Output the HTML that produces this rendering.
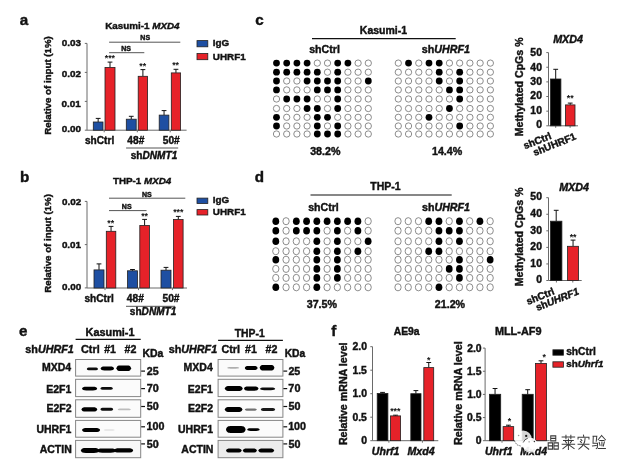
<!DOCTYPE html>
<html><head><meta charset="utf-8"><style>
html,body{margin:0;padding:0;background:#fff;}
svg{display:block;font-family:"Liberation Sans",sans-serif;filter:blur(0.4px);}
text{stroke:#111;stroke-width:0.42px;paint-order:stroke;}
</style></head><body>
<svg width="625" height="470" viewBox="0 0 625 470">
<defs><filter id="bl" x="-20%" y="-100%" width="140%" height="300%"><feGaussianBlur stdDeviation="0.6"/></filter></defs>
<rect width="625" height="470" fill="#fff"/>
<text x="19.64" y="24.80" font-size="15.20" font-weight="bold" fill="#111"><tspan>a</tspan></text>
<text x="105.16" y="28.70" font-size="9.86" font-weight="bold" fill="#111"><tspan>Kasumi-1 </tspan><tspan font-style="italic">MXD4</tspan></text>
<line x1="87" y1="43.4" x2="87" y2="130.2" stroke="#6a6a6a" stroke-width="1"/>
<line x1="84.8" y1="43.4" x2="87" y2="43.4" stroke="#6a6a6a" stroke-width="1"/>
<text x="61.69" y="45.60" font-size="9.90" font-weight="bold" fill="#111"><tspan>0.03</tspan></text>
<line x1="84.8" y1="72.4" x2="87" y2="72.4" stroke="#6a6a6a" stroke-width="1"/>
<text x="61.74" y="76.50" font-size="9.90" font-weight="bold" fill="#111"><tspan>0.02</tspan></text>
<line x1="84.8" y1="101.4" x2="87" y2="101.4" stroke="#6a6a6a" stroke-width="1"/>
<text x="61.59" y="107.40" font-size="9.90" font-weight="bold" fill="#111"><tspan>0.01</tspan></text>
<line x1="84.8" y1="130.2" x2="87" y2="130.2" stroke="#6a6a6a" stroke-width="1"/>
<text x="61.74" y="132.40" font-size="9.90" font-weight="bold" fill="#111"><tspan>0.00</tspan></text>
<text transform="translate(51.44,134.83) rotate(-90)" font-size="9.71" font-weight="bold" fill="#111"><tspan>Relative of input (1%)</tspan></text>
<line x1="87" y1="130.2" x2="186.6" y2="130.2" stroke="#6a6a6a" stroke-width="1"/>
<line x1="104.2" y1="130.2" x2="104.2" y2="132.3" stroke="#6a6a6a" stroke-width="1"/>
<line x1="137.3" y1="130.2" x2="137.3" y2="132.3" stroke="#6a6a6a" stroke-width="1"/>
<line x1="170.2" y1="130.2" x2="170.2" y2="132.3" stroke="#6a6a6a" stroke-width="1"/>
<line x1="98.15" y1="122" x2="98.15" y2="118.4" stroke="#111" stroke-width="1"/>
<line x1="95.75" y1="118.4" x2="100.55000000000001" y2="118.4" stroke="#111" stroke-width="1"/>
<rect x="93.30" y="122.00" width="9.70" height="8.20" fill="#1e4fa2" stroke="#222" stroke-width="0.8"/>
<line x1="110.0" y1="67.4" x2="110.0" y2="62.1" stroke="#111" stroke-width="1"/>
<line x1="107.6" y1="62.1" x2="112.4" y2="62.1" stroke="#111" stroke-width="1"/>
<rect x="105.00" y="67.40" width="10.00" height="62.80" fill="#e62229" stroke="#222" stroke-width="0.8"/>
<line x1="131.25" y1="119.2" x2="131.25" y2="116.3" stroke="#111" stroke-width="1"/>
<line x1="128.85" y1="116.3" x2="133.65" y2="116.3" stroke="#111" stroke-width="1"/>
<rect x="126.30" y="119.20" width="9.90" height="11.00" fill="#1e4fa2" stroke="#222" stroke-width="0.8"/>
<line x1="142.89999999999998" y1="76.3" x2="142.89999999999998" y2="69.6" stroke="#111" stroke-width="1"/>
<line x1="140.49999999999997" y1="69.6" x2="145.29999999999998" y2="69.6" stroke="#111" stroke-width="1"/>
<rect x="138.20" y="76.30" width="9.40" height="53.90" fill="#e62229" stroke="#222" stroke-width="0.8"/>
<line x1="164.05" y1="115.1" x2="164.05" y2="110.6" stroke="#111" stroke-width="1"/>
<line x1="161.65" y1="110.6" x2="166.45000000000002" y2="110.6" stroke="#111" stroke-width="1"/>
<rect x="159.20" y="115.10" width="9.70" height="15.10" fill="#1e4fa2" stroke="#222" stroke-width="0.8"/>
<line x1="175.95" y1="72.9" x2="175.95" y2="69.3" stroke="#111" stroke-width="1"/>
<line x1="173.54999999999998" y1="69.3" x2="178.35" y2="69.3" stroke="#111" stroke-width="1"/>
<rect x="171.30" y="72.90" width="9.30" height="57.30" fill="#e62229" stroke="#222" stroke-width="0.8"/>
<text x="104.75" y="61.47" font-size="8.8" font-weight="bold" fill="#111" style="stroke:none">***</text>
<text x="139.37" y="69.37" font-size="8.8" font-weight="bold" fill="#111" style="stroke:none">**</text>
<text x="172.17" y="68.27" font-size="8.8" font-weight="bold" fill="#111" style="stroke:none">**</text>
<line x1="109.1" y1="42.2" x2="180.3" y2="42.2" stroke="#555" stroke-width="1"/>
<text x="140.34" y="40.00" font-size="7.00" font-weight="bold" fill="#111"><tspan>NS</tspan></text>
<line x1="109.1" y1="52.7" x2="144.3" y2="52.7" stroke="#555" stroke-width="1"/>
<text x="121.14" y="50.80" font-size="7.00" font-weight="bold" fill="#111"><tspan>NS</tspan></text>
<text x="84.95" y="144.40" font-size="10.13" font-weight="bold" fill="#111"><tspan>shCtrl</tspan></text>
<text x="127.35" y="144.40" font-size="10.20" font-weight="bold" fill="#111"><tspan>48#</tspan></text>
<text x="162.79" y="144.40" font-size="10.20" font-weight="bold" fill="#111"><tspan>50#</tspan></text>
<line x1="126.1" y1="148" x2="178.2" y2="148" stroke="#555" stroke-width="1"/>
<text x="130.75" y="158.50" font-size="10.11" font-weight="bold" fill="#111"><tspan>sh</tspan><tspan font-style="italic">DNMT1</tspan></text>
<rect x="197.00" y="40.60" width="10.80" height="6.20" fill="#1e4fa2" stroke="#222" stroke-width="0.8"/>
<rect x="197.00" y="53.50" width="10.80" height="6.20" fill="#e62229" stroke="#222" stroke-width="0.8"/>
<text x="212.76" y="46.20" font-size="9.90" font-weight="bold" fill="#111"><tspan>IgG</tspan></text>
<text x="212.81" y="59.70" font-size="9.90" font-weight="bold" fill="#111"><tspan>UHRF1</tspan></text>
<text x="19.91" y="181.70" font-size="15.20" font-weight="bold" fill="#111"><tspan>b</tspan></text>
<text x="113.00" y="183.80" font-size="9.81" font-weight="bold" fill="#111"><tspan>THP-1 </tspan><tspan font-style="italic">MXD4</tspan></text>
<line x1="87" y1="201.4" x2="87" y2="288" stroke="#6a6a6a" stroke-width="1"/>
<line x1="84.8" y1="201.4" x2="87" y2="201.4" stroke="#6a6a6a" stroke-width="1"/>
<text x="62.04" y="204.70" font-size="9.90" font-weight="bold" fill="#111"><tspan>0.02</tspan></text>
<line x1="84.8" y1="244.6" x2="87" y2="244.6" stroke="#6a6a6a" stroke-width="1"/>
<text x="61.89" y="247.80" font-size="9.90" font-weight="bold" fill="#111"><tspan>0.01</tspan></text>
<line x1="84.8" y1="287.9" x2="87" y2="287.9" stroke="#6a6a6a" stroke-width="1"/>
<text x="62.04" y="290.20" font-size="9.90" font-weight="bold" fill="#111"><tspan>0.00</tspan></text>
<text transform="translate(51.44,292.73) rotate(-90)" font-size="9.71" font-weight="bold" fill="#111"><tspan>Relative of input (1%)</tspan></text>
<line x1="87" y1="288" x2="187" y2="288" stroke="#6a6a6a" stroke-width="1"/>
<line x1="105" y1="288" x2="105" y2="290.1" stroke="#6a6a6a" stroke-width="1"/>
<line x1="138.5" y1="288" x2="138.5" y2="290.1" stroke="#6a6a6a" stroke-width="1"/>
<line x1="172.4" y1="288" x2="172.4" y2="290.1" stroke="#6a6a6a" stroke-width="1"/>
<line x1="99.0" y1="269.9" x2="99.0" y2="263.9" stroke="#111" stroke-width="1"/>
<line x1="96.6" y1="263.9" x2="101.4" y2="263.9" stroke="#111" stroke-width="1"/>
<rect x="94.00" y="269.90" width="10.00" height="18.10" fill="#1e4fa2" stroke="#222" stroke-width="0.8"/>
<line x1="111.05" y1="231.3" x2="111.05" y2="226.4" stroke="#111" stroke-width="1"/>
<line x1="108.64999999999999" y1="226.4" x2="113.45" y2="226.4" stroke="#111" stroke-width="1"/>
<rect x="106.30" y="231.30" width="9.50" height="56.70" fill="#e62229" stroke="#222" stroke-width="0.8"/>
<line x1="132.5" y1="270.8" x2="132.5" y2="269.5" stroke="#111" stroke-width="1"/>
<line x1="130.1" y1="269.5" x2="134.9" y2="269.5" stroke="#111" stroke-width="1"/>
<rect x="127.50" y="270.80" width="10.00" height="17.20" fill="#1e4fa2" stroke="#222" stroke-width="0.8"/>
<line x1="144.60000000000002" y1="225.5" x2="144.60000000000002" y2="219.4" stroke="#111" stroke-width="1"/>
<line x1="142.20000000000002" y1="219.4" x2="147.00000000000003" y2="219.4" stroke="#111" stroke-width="1"/>
<rect x="139.80" y="225.50" width="9.60" height="62.50" fill="#e62229" stroke="#222" stroke-width="0.8"/>
<line x1="166.0" y1="270.2" x2="166.0" y2="267.4" stroke="#111" stroke-width="1"/>
<line x1="163.6" y1="267.4" x2="168.4" y2="267.4" stroke="#111" stroke-width="1"/>
<rect x="161.00" y="270.20" width="10.00" height="17.80" fill="#1e4fa2" stroke="#222" stroke-width="0.8"/>
<line x1="178.3" y1="219.5" x2="178.3" y2="216.4" stroke="#111" stroke-width="1"/>
<line x1="175.9" y1="216.4" x2="180.70000000000002" y2="216.4" stroke="#111" stroke-width="1"/>
<rect x="173.50" y="219.50" width="9.60" height="68.50" fill="#e62229" stroke="#222" stroke-width="0.8"/>
<text x="107.37" y="226.17" font-size="8.8" font-weight="bold" fill="#111" style="stroke:none">**</text>
<text x="141.17" y="219.17" font-size="8.8" font-weight="bold" fill="#111" style="stroke:none">**</text>
<text x="173.15" y="215.07" font-size="8.8" font-weight="bold" fill="#111" style="stroke:none">***</text>
<line x1="109" y1="198.2" x2="185.3" y2="198.2" stroke="#555" stroke-width="1"/>
<text x="142.04" y="196.50" font-size="7.00" font-weight="bold" fill="#111"><tspan>NS</tspan></text>
<line x1="109" y1="210.6" x2="146.5" y2="210.6" stroke="#555" stroke-width="1"/>
<text x="121.84" y="208.50" font-size="7.00" font-weight="bold" fill="#111"><tspan>NS</tspan></text>
<text x="84.45" y="302.40" font-size="10.13" font-weight="bold" fill="#111"><tspan>shCtrl</tspan></text>
<text x="126.85" y="302.40" font-size="10.20" font-weight="bold" fill="#111"><tspan>48#</tspan></text>
<text x="162.49" y="302.40" font-size="10.20" font-weight="bold" fill="#111"><tspan>50#</tspan></text>
<line x1="126" y1="306.3" x2="175" y2="306.3" stroke="#555" stroke-width="1"/>
<text x="129.85" y="315.30" font-size="10.09" font-weight="bold" fill="#111"><tspan>sh</tspan><tspan font-style="italic">DNMT1</tspan></text>
<rect x="197.00" y="198.10" width="10.80" height="5.40" fill="#1e4fa2" stroke="#222" stroke-width="0.8"/>
<rect x="197.00" y="209.60" width="10.80" height="5.40" fill="#e62229" stroke="#222" stroke-width="0.8"/>
<text x="212.76" y="202.90" font-size="9.90" font-weight="bold" fill="#111"><tspan>IgG</tspan></text>
<text x="212.81" y="215.00" font-size="9.90" font-weight="bold" fill="#111"><tspan>UHRF1</tspan></text>
<text x="255.19" y="24.80" font-size="15.20" font-weight="bold" fill="#111"><tspan>c</tspan></text>
<text x="359.82" y="34.20" font-size="10.50" font-weight="bold" fill="#111"><tspan>Kasumi-1</tspan></text>
<line x1="312" y1="38.6" x2="455.7" y2="38.6" stroke="#111" stroke-width="1.2"/>
<text x="309.23" y="52.80" font-size="10.60" font-weight="bold" fill="#111"><tspan>shCtrl</tspan></text>
<text x="421.83" y="52.60" font-size="10.70" font-weight="bold" fill="#111"><tspan>sh</tspan><tspan font-style="italic">UHRF1</tspan></text>
<ellipse cx="276.50" cy="63.10" rx="3.40" ry="3.40" fill="#000"/>
<ellipse cx="286.70" cy="63.10" rx="3.40" ry="3.40" fill="#000"/>
<ellipse cx="296.90" cy="63.10" rx="3.40" ry="3.40" fill="#000"/>
<ellipse cx="307.10" cy="63.10" rx="3.40" ry="3.40" fill="#000"/>
<ellipse cx="317.30" cy="63.10" rx="3.15" ry="3.15" fill="#fff" stroke="#707070" stroke-width="0.8"/>
<ellipse cx="327.50" cy="63.10" rx="3.15" ry="3.15" fill="#fff" stroke="#707070" stroke-width="0.8"/>
<ellipse cx="337.70" cy="63.10" rx="3.40" ry="3.40" fill="#000"/>
<ellipse cx="347.90" cy="63.10" rx="3.40" ry="3.40" fill="#000"/>
<ellipse cx="358.10" cy="63.10" rx="3.15" ry="3.15" fill="#fff" stroke="#707070" stroke-width="0.8"/>
<ellipse cx="368.30" cy="63.10" rx="3.15" ry="3.15" fill="#fff" stroke="#707070" stroke-width="0.8"/>
<ellipse cx="276.50" cy="72.20" rx="3.40" ry="3.40" fill="#000"/>
<ellipse cx="286.70" cy="72.20" rx="3.40" ry="3.40" fill="#000"/>
<ellipse cx="296.90" cy="72.20" rx="3.40" ry="3.40" fill="#000"/>
<ellipse cx="307.10" cy="72.20" rx="3.40" ry="3.40" fill="#000"/>
<ellipse cx="317.30" cy="72.20" rx="3.40" ry="3.40" fill="#000"/>
<ellipse cx="327.50" cy="72.20" rx="3.15" ry="3.15" fill="#fff" stroke="#707070" stroke-width="0.8"/>
<ellipse cx="337.70" cy="72.20" rx="3.40" ry="3.40" fill="#000"/>
<ellipse cx="347.90" cy="72.20" rx="3.15" ry="3.15" fill="#fff" stroke="#707070" stroke-width="0.8"/>
<ellipse cx="358.10" cy="72.20" rx="3.15" ry="3.15" fill="#fff" stroke="#707070" stroke-width="0.8"/>
<ellipse cx="368.30" cy="72.20" rx="3.15" ry="3.15" fill="#fff" stroke="#707070" stroke-width="0.8"/>
<ellipse cx="276.50" cy="81.00" rx="3.40" ry="3.40" fill="#000"/>
<ellipse cx="286.70" cy="81.00" rx="3.15" ry="3.15" fill="#fff" stroke="#707070" stroke-width="0.8"/>
<ellipse cx="296.90" cy="81.00" rx="3.15" ry="3.15" fill="#fff" stroke="#707070" stroke-width="0.8"/>
<ellipse cx="307.10" cy="81.00" rx="3.40" ry="3.40" fill="#000"/>
<ellipse cx="317.30" cy="81.00" rx="3.40" ry="3.40" fill="#000"/>
<ellipse cx="327.50" cy="81.00" rx="3.40" ry="3.40" fill="#000"/>
<ellipse cx="337.70" cy="81.00" rx="3.40" ry="3.40" fill="#000"/>
<ellipse cx="347.90" cy="81.00" rx="3.15" ry="3.15" fill="#fff" stroke="#707070" stroke-width="0.8"/>
<ellipse cx="358.10" cy="81.00" rx="3.15" ry="3.15" fill="#fff" stroke="#707070" stroke-width="0.8"/>
<ellipse cx="368.30" cy="81.00" rx="3.40" ry="3.40" fill="#000"/>
<ellipse cx="276.50" cy="89.90" rx="3.40" ry="3.40" fill="#000"/>
<ellipse cx="286.70" cy="89.90" rx="3.15" ry="3.15" fill="#fff" stroke="#707070" stroke-width="0.8"/>
<ellipse cx="296.90" cy="89.90" rx="3.15" ry="3.15" fill="#fff" stroke="#707070" stroke-width="0.8"/>
<ellipse cx="307.10" cy="89.90" rx="3.15" ry="3.15" fill="#fff" stroke="#707070" stroke-width="0.8"/>
<ellipse cx="317.30" cy="89.90" rx="3.40" ry="3.40" fill="#000"/>
<ellipse cx="327.50" cy="89.90" rx="3.40" ry="3.40" fill="#000"/>
<ellipse cx="337.70" cy="89.90" rx="3.40" ry="3.40" fill="#000"/>
<ellipse cx="347.90" cy="89.90" rx="3.15" ry="3.15" fill="#fff" stroke="#707070" stroke-width="0.8"/>
<ellipse cx="358.10" cy="89.90" rx="3.15" ry="3.15" fill="#fff" stroke="#707070" stroke-width="0.8"/>
<ellipse cx="368.30" cy="89.90" rx="3.15" ry="3.15" fill="#fff" stroke="#707070" stroke-width="0.8"/>
<ellipse cx="276.50" cy="99.00" rx="3.15" ry="3.15" fill="#fff" stroke="#707070" stroke-width="0.8"/>
<ellipse cx="286.70" cy="99.00" rx="3.40" ry="3.40" fill="#000"/>
<ellipse cx="296.90" cy="99.00" rx="3.40" ry="3.40" fill="#000"/>
<ellipse cx="307.10" cy="99.00" rx="3.40" ry="3.40" fill="#000"/>
<ellipse cx="317.30" cy="99.00" rx="3.15" ry="3.15" fill="#fff" stroke="#707070" stroke-width="0.8"/>
<ellipse cx="327.50" cy="99.00" rx="3.15" ry="3.15" fill="#fff" stroke="#707070" stroke-width="0.8"/>
<ellipse cx="337.70" cy="99.00" rx="3.40" ry="3.40" fill="#000"/>
<ellipse cx="347.90" cy="99.00" rx="3.15" ry="3.15" fill="#fff" stroke="#707070" stroke-width="0.8"/>
<ellipse cx="358.10" cy="99.00" rx="3.15" ry="3.15" fill="#fff" stroke="#707070" stroke-width="0.8"/>
<ellipse cx="368.30" cy="99.00" rx="3.15" ry="3.15" fill="#fff" stroke="#707070" stroke-width="0.8"/>
<ellipse cx="276.50" cy="108.50" rx="3.15" ry="3.15" fill="#fff" stroke="#707070" stroke-width="0.8"/>
<ellipse cx="286.70" cy="108.50" rx="3.15" ry="3.15" fill="#fff" stroke="#707070" stroke-width="0.8"/>
<ellipse cx="296.90" cy="108.50" rx="3.15" ry="3.15" fill="#fff" stroke="#707070" stroke-width="0.8"/>
<ellipse cx="307.10" cy="108.50" rx="3.40" ry="3.40" fill="#000"/>
<ellipse cx="317.30" cy="108.50" rx="3.40" ry="3.40" fill="#000"/>
<ellipse cx="327.50" cy="108.50" rx="3.15" ry="3.15" fill="#fff" stroke="#707070" stroke-width="0.8"/>
<ellipse cx="337.70" cy="108.50" rx="3.40" ry="3.40" fill="#000"/>
<ellipse cx="347.90" cy="108.50" rx="3.15" ry="3.15" fill="#fff" stroke="#707070" stroke-width="0.8"/>
<ellipse cx="358.10" cy="108.50" rx="3.15" ry="3.15" fill="#fff" stroke="#707070" stroke-width="0.8"/>
<ellipse cx="368.30" cy="108.50" rx="3.15" ry="3.15" fill="#fff" stroke="#707070" stroke-width="0.8"/>
<ellipse cx="276.50" cy="117.30" rx="3.40" ry="3.40" fill="#000"/>
<ellipse cx="286.70" cy="117.30" rx="3.15" ry="3.15" fill="#fff" stroke="#707070" stroke-width="0.8"/>
<ellipse cx="296.90" cy="117.30" rx="3.15" ry="3.15" fill="#fff" stroke="#707070" stroke-width="0.8"/>
<ellipse cx="307.10" cy="117.30" rx="3.15" ry="3.15" fill="#fff" stroke="#707070" stroke-width="0.8"/>
<ellipse cx="317.30" cy="117.30" rx="3.40" ry="3.40" fill="#000"/>
<ellipse cx="327.50" cy="117.30" rx="3.40" ry="3.40" fill="#000"/>
<ellipse cx="337.70" cy="117.30" rx="3.15" ry="3.15" fill="#fff" stroke="#707070" stroke-width="0.8"/>
<ellipse cx="347.90" cy="117.30" rx="3.15" ry="3.15" fill="#fff" stroke="#707070" stroke-width="0.8"/>
<ellipse cx="358.10" cy="117.30" rx="3.15" ry="3.15" fill="#fff" stroke="#707070" stroke-width="0.8"/>
<ellipse cx="368.30" cy="117.30" rx="3.15" ry="3.15" fill="#fff" stroke="#707070" stroke-width="0.8"/>
<ellipse cx="276.50" cy="126.00" rx="3.40" ry="3.40" fill="#000"/>
<ellipse cx="286.70" cy="126.00" rx="3.15" ry="3.15" fill="#fff" stroke="#707070" stroke-width="0.8"/>
<ellipse cx="296.90" cy="126.00" rx="3.15" ry="3.15" fill="#fff" stroke="#707070" stroke-width="0.8"/>
<ellipse cx="307.10" cy="126.00" rx="3.15" ry="3.15" fill="#fff" stroke="#707070" stroke-width="0.8"/>
<ellipse cx="317.30" cy="126.00" rx="3.40" ry="3.40" fill="#000"/>
<ellipse cx="327.50" cy="126.00" rx="3.15" ry="3.15" fill="#fff" stroke="#707070" stroke-width="0.8"/>
<ellipse cx="337.70" cy="126.00" rx="3.40" ry="3.40" fill="#000"/>
<ellipse cx="347.90" cy="126.00" rx="3.15" ry="3.15" fill="#fff" stroke="#707070" stroke-width="0.8"/>
<ellipse cx="358.10" cy="126.00" rx="3.15" ry="3.15" fill="#fff" stroke="#707070" stroke-width="0.8"/>
<ellipse cx="368.30" cy="126.00" rx="3.15" ry="3.15" fill="#fff" stroke="#707070" stroke-width="0.8"/>
<ellipse cx="276.50" cy="134.00" rx="3.15" ry="3.15" fill="#fff" stroke="#707070" stroke-width="0.8"/>
<ellipse cx="286.70" cy="134.00" rx="3.15" ry="3.15" fill="#fff" stroke="#707070" stroke-width="0.8"/>
<ellipse cx="296.90" cy="134.00" rx="3.15" ry="3.15" fill="#fff" stroke="#707070" stroke-width="0.8"/>
<ellipse cx="307.10" cy="134.00" rx="3.15" ry="3.15" fill="#fff" stroke="#707070" stroke-width="0.8"/>
<ellipse cx="317.30" cy="134.00" rx="3.40" ry="3.40" fill="#000"/>
<ellipse cx="327.50" cy="134.00" rx="3.40" ry="3.40" fill="#000"/>
<ellipse cx="337.70" cy="134.00" rx="3.40" ry="3.40" fill="#000"/>
<ellipse cx="347.90" cy="134.00" rx="3.15" ry="3.15" fill="#fff" stroke="#707070" stroke-width="0.8"/>
<ellipse cx="358.10" cy="134.00" rx="3.15" ry="3.15" fill="#fff" stroke="#707070" stroke-width="0.8"/>
<ellipse cx="368.30" cy="134.00" rx="3.15" ry="3.15" fill="#fff" stroke="#707070" stroke-width="0.8"/>
<ellipse cx="398.30" cy="63.10" rx="3.15" ry="3.15" fill="#fff" stroke="#707070" stroke-width="0.8"/>
<ellipse cx="408.53" cy="63.10" rx="3.40" ry="3.40" fill="#000"/>
<ellipse cx="418.76" cy="63.10" rx="3.15" ry="3.15" fill="#fff" stroke="#707070" stroke-width="0.8"/>
<ellipse cx="428.99" cy="63.10" rx="3.40" ry="3.40" fill="#000"/>
<ellipse cx="439.22" cy="63.10" rx="3.40" ry="3.40" fill="#000"/>
<ellipse cx="449.45" cy="63.10" rx="3.15" ry="3.15" fill="#fff" stroke="#707070" stroke-width="0.8"/>
<ellipse cx="459.68" cy="63.10" rx="3.15" ry="3.15" fill="#fff" stroke="#707070" stroke-width="0.8"/>
<ellipse cx="469.91" cy="63.10" rx="3.15" ry="3.15" fill="#fff" stroke="#707070" stroke-width="0.8"/>
<ellipse cx="480.14" cy="63.10" rx="3.15" ry="3.15" fill="#fff" stroke="#707070" stroke-width="0.8"/>
<ellipse cx="490.37" cy="63.10" rx="3.15" ry="3.15" fill="#fff" stroke="#707070" stroke-width="0.8"/>
<ellipse cx="398.30" cy="72.20" rx="3.15" ry="3.15" fill="#fff" stroke="#707070" stroke-width="0.8"/>
<ellipse cx="408.53" cy="72.20" rx="3.15" ry="3.15" fill="#fff" stroke="#707070" stroke-width="0.8"/>
<ellipse cx="418.76" cy="72.20" rx="3.15" ry="3.15" fill="#fff" stroke="#707070" stroke-width="0.8"/>
<ellipse cx="428.99" cy="72.20" rx="3.15" ry="3.15" fill="#fff" stroke="#707070" stroke-width="0.8"/>
<ellipse cx="439.22" cy="72.20" rx="3.40" ry="3.40" fill="#000"/>
<ellipse cx="449.45" cy="72.20" rx="3.15" ry="3.15" fill="#fff" stroke="#707070" stroke-width="0.8"/>
<ellipse cx="459.68" cy="72.20" rx="3.40" ry="3.40" fill="#000"/>
<ellipse cx="469.91" cy="72.20" rx="3.15" ry="3.15" fill="#fff" stroke="#707070" stroke-width="0.8"/>
<ellipse cx="480.14" cy="72.20" rx="3.15" ry="3.15" fill="#fff" stroke="#707070" stroke-width="0.8"/>
<ellipse cx="490.37" cy="72.20" rx="3.15" ry="3.15" fill="#fff" stroke="#707070" stroke-width="0.8"/>
<ellipse cx="398.30" cy="81.00" rx="3.15" ry="3.15" fill="#fff" stroke="#707070" stroke-width="0.8"/>
<ellipse cx="408.53" cy="81.00" rx="3.15" ry="3.15" fill="#fff" stroke="#707070" stroke-width="0.8"/>
<ellipse cx="418.76" cy="81.00" rx="3.15" ry="3.15" fill="#fff" stroke="#707070" stroke-width="0.8"/>
<ellipse cx="428.99" cy="81.00" rx="3.15" ry="3.15" fill="#fff" stroke="#707070" stroke-width="0.8"/>
<ellipse cx="439.22" cy="81.00" rx="3.40" ry="3.40" fill="#000"/>
<ellipse cx="449.45" cy="81.00" rx="3.15" ry="3.15" fill="#fff" stroke="#707070" stroke-width="0.8"/>
<ellipse cx="459.68" cy="81.00" rx="3.40" ry="3.40" fill="#000"/>
<ellipse cx="469.91" cy="81.00" rx="3.15" ry="3.15" fill="#fff" stroke="#707070" stroke-width="0.8"/>
<ellipse cx="480.14" cy="81.00" rx="3.15" ry="3.15" fill="#fff" stroke="#707070" stroke-width="0.8"/>
<ellipse cx="490.37" cy="81.00" rx="3.15" ry="3.15" fill="#fff" stroke="#707070" stroke-width="0.8"/>
<ellipse cx="398.30" cy="89.90" rx="3.15" ry="3.15" fill="#fff" stroke="#707070" stroke-width="0.8"/>
<ellipse cx="408.53" cy="89.90" rx="3.15" ry="3.15" fill="#fff" stroke="#707070" stroke-width="0.8"/>
<ellipse cx="418.76" cy="89.90" rx="3.15" ry="3.15" fill="#fff" stroke="#707070" stroke-width="0.8"/>
<ellipse cx="428.99" cy="89.90" rx="3.15" ry="3.15" fill="#fff" stroke="#707070" stroke-width="0.8"/>
<ellipse cx="439.22" cy="89.90" rx="3.15" ry="3.15" fill="#fff" stroke="#707070" stroke-width="0.8"/>
<ellipse cx="449.45" cy="89.90" rx="3.40" ry="3.40" fill="#000"/>
<ellipse cx="459.68" cy="89.90" rx="3.40" ry="3.40" fill="#000"/>
<ellipse cx="469.91" cy="89.90" rx="3.15" ry="3.15" fill="#fff" stroke="#707070" stroke-width="0.8"/>
<ellipse cx="480.14" cy="89.90" rx="3.15" ry="3.15" fill="#fff" stroke="#707070" stroke-width="0.8"/>
<ellipse cx="490.37" cy="89.90" rx="3.15" ry="3.15" fill="#fff" stroke="#707070" stroke-width="0.8"/>
<ellipse cx="398.30" cy="99.00" rx="3.15" ry="3.15" fill="#fff" stroke="#707070" stroke-width="0.8"/>
<ellipse cx="408.53" cy="99.00" rx="3.15" ry="3.15" fill="#fff" stroke="#707070" stroke-width="0.8"/>
<ellipse cx="418.76" cy="99.00" rx="3.15" ry="3.15" fill="#fff" stroke="#707070" stroke-width="0.8"/>
<ellipse cx="428.99" cy="99.00" rx="3.15" ry="3.15" fill="#fff" stroke="#707070" stroke-width="0.8"/>
<ellipse cx="439.22" cy="99.00" rx="3.15" ry="3.15" fill="#fff" stroke="#707070" stroke-width="0.8"/>
<ellipse cx="449.45" cy="99.00" rx="3.15" ry="3.15" fill="#fff" stroke="#707070" stroke-width="0.8"/>
<ellipse cx="459.68" cy="99.00" rx="3.40" ry="3.40" fill="#000"/>
<ellipse cx="469.91" cy="99.00" rx="3.15" ry="3.15" fill="#fff" stroke="#707070" stroke-width="0.8"/>
<ellipse cx="480.14" cy="99.00" rx="3.15" ry="3.15" fill="#fff" stroke="#707070" stroke-width="0.8"/>
<ellipse cx="490.37" cy="99.00" rx="3.15" ry="3.15" fill="#fff" stroke="#707070" stroke-width="0.8"/>
<ellipse cx="398.30" cy="108.50" rx="3.15" ry="3.15" fill="#fff" stroke="#707070" stroke-width="0.8"/>
<ellipse cx="408.53" cy="108.50" rx="3.15" ry="3.15" fill="#fff" stroke="#707070" stroke-width="0.8"/>
<ellipse cx="418.76" cy="108.50" rx="3.15" ry="3.15" fill="#fff" stroke="#707070" stroke-width="0.8"/>
<ellipse cx="428.99" cy="108.50" rx="3.15" ry="3.15" fill="#fff" stroke="#707070" stroke-width="0.8"/>
<ellipse cx="439.22" cy="108.50" rx="3.15" ry="3.15" fill="#fff" stroke="#707070" stroke-width="0.8"/>
<ellipse cx="449.45" cy="108.50" rx="3.40" ry="3.40" fill="#000"/>
<ellipse cx="459.68" cy="108.50" rx="3.15" ry="3.15" fill="#fff" stroke="#707070" stroke-width="0.8"/>
<ellipse cx="469.91" cy="108.50" rx="3.15" ry="3.15" fill="#fff" stroke="#707070" stroke-width="0.8"/>
<ellipse cx="480.14" cy="108.50" rx="3.15" ry="3.15" fill="#fff" stroke="#707070" stroke-width="0.8"/>
<ellipse cx="490.37" cy="108.50" rx="3.15" ry="3.15" fill="#fff" stroke="#707070" stroke-width="0.8"/>
<ellipse cx="398.30" cy="117.30" rx="3.15" ry="3.15" fill="#fff" stroke="#707070" stroke-width="0.8"/>
<ellipse cx="408.53" cy="117.30" rx="3.15" ry="3.15" fill="#fff" stroke="#707070" stroke-width="0.8"/>
<ellipse cx="418.76" cy="117.30" rx="3.15" ry="3.15" fill="#fff" stroke="#707070" stroke-width="0.8"/>
<ellipse cx="428.99" cy="117.30" rx="3.40" ry="3.40" fill="#000"/>
<ellipse cx="439.22" cy="117.30" rx="3.15" ry="3.15" fill="#fff" stroke="#707070" stroke-width="0.8"/>
<ellipse cx="449.45" cy="117.30" rx="3.15" ry="3.15" fill="#fff" stroke="#707070" stroke-width="0.8"/>
<ellipse cx="459.68" cy="117.30" rx="3.15" ry="3.15" fill="#fff" stroke="#707070" stroke-width="0.8"/>
<ellipse cx="469.91" cy="117.30" rx="3.15" ry="3.15" fill="#fff" stroke="#707070" stroke-width="0.8"/>
<ellipse cx="480.14" cy="117.30" rx="3.15" ry="3.15" fill="#fff" stroke="#707070" stroke-width="0.8"/>
<ellipse cx="490.37" cy="117.30" rx="3.15" ry="3.15" fill="#fff" stroke="#707070" stroke-width="0.8"/>
<ellipse cx="398.30" cy="126.00" rx="3.15" ry="3.15" fill="#fff" stroke="#707070" stroke-width="0.8"/>
<ellipse cx="408.53" cy="126.00" rx="3.15" ry="3.15" fill="#fff" stroke="#707070" stroke-width="0.8"/>
<ellipse cx="418.76" cy="126.00" rx="3.15" ry="3.15" fill="#fff" stroke="#707070" stroke-width="0.8"/>
<ellipse cx="428.99" cy="126.00" rx="3.15" ry="3.15" fill="#fff" stroke="#707070" stroke-width="0.8"/>
<ellipse cx="439.22" cy="126.00" rx="3.15" ry="3.15" fill="#fff" stroke="#707070" stroke-width="0.8"/>
<ellipse cx="449.45" cy="126.00" rx="3.15" ry="3.15" fill="#fff" stroke="#707070" stroke-width="0.8"/>
<ellipse cx="459.68" cy="126.00" rx="3.40" ry="3.40" fill="#000"/>
<ellipse cx="469.91" cy="126.00" rx="3.15" ry="3.15" fill="#fff" stroke="#707070" stroke-width="0.8"/>
<ellipse cx="480.14" cy="126.00" rx="3.15" ry="3.15" fill="#fff" stroke="#707070" stroke-width="0.8"/>
<ellipse cx="490.37" cy="126.00" rx="3.15" ry="3.15" fill="#fff" stroke="#707070" stroke-width="0.8"/>
<ellipse cx="398.30" cy="134.00" rx="3.15" ry="3.15" fill="#fff" stroke="#707070" stroke-width="0.8"/>
<ellipse cx="408.53" cy="134.00" rx="3.15" ry="3.15" fill="#fff" stroke="#707070" stroke-width="0.8"/>
<ellipse cx="418.76" cy="134.00" rx="3.15" ry="3.15" fill="#fff" stroke="#707070" stroke-width="0.8"/>
<ellipse cx="428.99" cy="134.00" rx="3.15" ry="3.15" fill="#fff" stroke="#707070" stroke-width="0.8"/>
<ellipse cx="439.22" cy="134.00" rx="3.15" ry="3.15" fill="#fff" stroke="#707070" stroke-width="0.8"/>
<ellipse cx="449.45" cy="134.00" rx="3.15" ry="3.15" fill="#fff" stroke="#707070" stroke-width="0.8"/>
<ellipse cx="459.68" cy="134.00" rx="3.15" ry="3.15" fill="#fff" stroke="#707070" stroke-width="0.8"/>
<ellipse cx="469.91" cy="134.00" rx="3.15" ry="3.15" fill="#fff" stroke="#707070" stroke-width="0.8"/>
<ellipse cx="480.14" cy="134.00" rx="3.15" ry="3.15" fill="#fff" stroke="#707070" stroke-width="0.8"/>
<ellipse cx="490.37" cy="134.00" rx="3.15" ry="3.15" fill="#fff" stroke="#707070" stroke-width="0.8"/>
<text x="310.13" y="154.80" font-size="10.70" font-weight="bold" fill="#111"><tspan>38.2%</tspan></text>
<text x="431.96" y="154.80" font-size="10.69" font-weight="bold" fill="#111"><tspan>14.4%</tspan></text>
<text x="254.79" y="181.50" font-size="15.20" font-weight="bold" fill="#111"><tspan>d</tspan></text>
<text x="370.29" y="190.20" font-size="10.50" font-weight="bold" fill="#111"><tspan>THP-1</tspan></text>
<line x1="310.5" y1="195" x2="451.7" y2="195" stroke="#111" stroke-width="1.2"/>
<text x="308.13" y="211.30" font-size="10.60" font-weight="bold" fill="#111"><tspan>shCtrl</tspan></text>
<text x="422.03" y="211.30" font-size="10.66" font-weight="bold" fill="#111"><tspan>sh</tspan><tspan font-style="italic">UHRF1</tspan></text>
<ellipse cx="275.80" cy="221.20" rx="3.40" ry="3.80" fill="#000"/>
<ellipse cx="286.06" cy="221.20" rx="3.15" ry="3.55" fill="#fff" stroke="#707070" stroke-width="0.8"/>
<ellipse cx="296.32" cy="221.20" rx="3.40" ry="3.80" fill="#000"/>
<ellipse cx="306.58" cy="221.20" rx="3.40" ry="3.80" fill="#000"/>
<ellipse cx="316.84" cy="221.20" rx="3.40" ry="3.80" fill="#000"/>
<ellipse cx="327.10" cy="221.20" rx="3.40" ry="3.80" fill="#000"/>
<ellipse cx="337.36" cy="221.20" rx="3.40" ry="3.80" fill="#000"/>
<ellipse cx="347.62" cy="221.20" rx="3.40" ry="3.80" fill="#000"/>
<ellipse cx="357.88" cy="221.20" rx="3.40" ry="3.80" fill="#000"/>
<ellipse cx="368.14" cy="221.20" rx="3.15" ry="3.55" fill="#fff" stroke="#707070" stroke-width="0.8"/>
<ellipse cx="275.80" cy="230.70" rx="3.40" ry="3.80" fill="#000"/>
<ellipse cx="286.06" cy="230.70" rx="3.15" ry="3.55" fill="#fff" stroke="#707070" stroke-width="0.8"/>
<ellipse cx="296.32" cy="230.70" rx="3.40" ry="3.80" fill="#000"/>
<ellipse cx="306.58" cy="230.70" rx="3.40" ry="3.80" fill="#000"/>
<ellipse cx="316.84" cy="230.70" rx="3.40" ry="3.80" fill="#000"/>
<ellipse cx="327.10" cy="230.70" rx="3.15" ry="3.55" fill="#fff" stroke="#707070" stroke-width="0.8"/>
<ellipse cx="337.36" cy="230.70" rx="3.40" ry="3.80" fill="#000"/>
<ellipse cx="347.62" cy="230.70" rx="3.15" ry="3.55" fill="#fff" stroke="#707070" stroke-width="0.8"/>
<ellipse cx="357.88" cy="230.70" rx="3.40" ry="3.80" fill="#000"/>
<ellipse cx="368.14" cy="230.70" rx="3.15" ry="3.55" fill="#fff" stroke="#707070" stroke-width="0.8"/>
<ellipse cx="275.80" cy="241.30" rx="3.40" ry="3.80" fill="#000"/>
<ellipse cx="286.06" cy="241.30" rx="3.15" ry="3.55" fill="#fff" stroke="#707070" stroke-width="0.8"/>
<ellipse cx="296.32" cy="241.30" rx="3.15" ry="3.55" fill="#fff" stroke="#707070" stroke-width="0.8"/>
<ellipse cx="306.58" cy="241.30" rx="3.15" ry="3.55" fill="#fff" stroke="#707070" stroke-width="0.8"/>
<ellipse cx="316.84" cy="241.30" rx="3.40" ry="3.80" fill="#000"/>
<ellipse cx="327.10" cy="241.30" rx="3.15" ry="3.55" fill="#fff" stroke="#707070" stroke-width="0.8"/>
<ellipse cx="337.36" cy="241.30" rx="3.40" ry="3.80" fill="#000"/>
<ellipse cx="347.62" cy="241.30" rx="3.15" ry="3.55" fill="#fff" stroke="#707070" stroke-width="0.8"/>
<ellipse cx="357.88" cy="241.30" rx="3.15" ry="3.55" fill="#fff" stroke="#707070" stroke-width="0.8"/>
<ellipse cx="368.14" cy="241.30" rx="3.40" ry="3.80" fill="#000"/>
<ellipse cx="275.80" cy="251.20" rx="3.15" ry="3.55" fill="#fff" stroke="#707070" stroke-width="0.8"/>
<ellipse cx="286.06" cy="251.20" rx="3.15" ry="3.55" fill="#fff" stroke="#707070" stroke-width="0.8"/>
<ellipse cx="296.32" cy="251.20" rx="3.15" ry="3.55" fill="#fff" stroke="#707070" stroke-width="0.8"/>
<ellipse cx="306.58" cy="251.20" rx="3.15" ry="3.55" fill="#fff" stroke="#707070" stroke-width="0.8"/>
<ellipse cx="316.84" cy="251.20" rx="3.40" ry="3.80" fill="#000"/>
<ellipse cx="327.10" cy="251.20" rx="3.15" ry="3.55" fill="#fff" stroke="#707070" stroke-width="0.8"/>
<ellipse cx="337.36" cy="251.20" rx="3.40" ry="3.80" fill="#000"/>
<ellipse cx="347.62" cy="251.20" rx="3.15" ry="3.55" fill="#fff" stroke="#707070" stroke-width="0.8"/>
<ellipse cx="357.88" cy="251.20" rx="3.40" ry="3.80" fill="#000"/>
<ellipse cx="368.14" cy="251.20" rx="3.15" ry="3.55" fill="#fff" stroke="#707070" stroke-width="0.8"/>
<ellipse cx="275.80" cy="259.70" rx="3.40" ry="3.80" fill="#000"/>
<ellipse cx="286.06" cy="259.70" rx="3.15" ry="3.55" fill="#fff" stroke="#707070" stroke-width="0.8"/>
<ellipse cx="296.32" cy="259.70" rx="3.15" ry="3.55" fill="#fff" stroke="#707070" stroke-width="0.8"/>
<ellipse cx="306.58" cy="259.70" rx="3.15" ry="3.55" fill="#fff" stroke="#707070" stroke-width="0.8"/>
<ellipse cx="316.84" cy="259.70" rx="3.40" ry="3.80" fill="#000"/>
<ellipse cx="327.10" cy="259.70" rx="3.15" ry="3.55" fill="#fff" stroke="#707070" stroke-width="0.8"/>
<ellipse cx="337.36" cy="259.70" rx="3.40" ry="3.80" fill="#000"/>
<ellipse cx="347.62" cy="259.70" rx="3.15" ry="3.55" fill="#fff" stroke="#707070" stroke-width="0.8"/>
<ellipse cx="357.88" cy="259.70" rx="3.15" ry="3.55" fill="#fff" stroke="#707070" stroke-width="0.8"/>
<ellipse cx="368.14" cy="259.70" rx="3.15" ry="3.55" fill="#fff" stroke="#707070" stroke-width="0.8"/>
<ellipse cx="275.80" cy="268.90" rx="3.15" ry="3.55" fill="#fff" stroke="#707070" stroke-width="0.8"/>
<ellipse cx="286.06" cy="268.90" rx="3.15" ry="3.55" fill="#fff" stroke="#707070" stroke-width="0.8"/>
<ellipse cx="296.32" cy="268.90" rx="3.15" ry="3.55" fill="#fff" stroke="#707070" stroke-width="0.8"/>
<ellipse cx="306.58" cy="268.90" rx="3.15" ry="3.55" fill="#fff" stroke="#707070" stroke-width="0.8"/>
<ellipse cx="316.84" cy="268.90" rx="3.40" ry="3.80" fill="#000"/>
<ellipse cx="327.10" cy="268.90" rx="3.15" ry="3.55" fill="#fff" stroke="#707070" stroke-width="0.8"/>
<ellipse cx="337.36" cy="268.90" rx="3.40" ry="3.80" fill="#000"/>
<ellipse cx="347.62" cy="268.90" rx="3.15" ry="3.55" fill="#fff" stroke="#707070" stroke-width="0.8"/>
<ellipse cx="357.88" cy="268.90" rx="3.15" ry="3.55" fill="#fff" stroke="#707070" stroke-width="0.8"/>
<ellipse cx="368.14" cy="268.90" rx="3.15" ry="3.55" fill="#fff" stroke="#707070" stroke-width="0.8"/>
<ellipse cx="275.80" cy="277.90" rx="3.15" ry="3.55" fill="#fff" stroke="#707070" stroke-width="0.8"/>
<ellipse cx="286.06" cy="277.90" rx="3.15" ry="3.55" fill="#fff" stroke="#707070" stroke-width="0.8"/>
<ellipse cx="296.32" cy="277.90" rx="3.15" ry="3.55" fill="#fff" stroke="#707070" stroke-width="0.8"/>
<ellipse cx="306.58" cy="277.90" rx="3.15" ry="3.55" fill="#fff" stroke="#707070" stroke-width="0.8"/>
<ellipse cx="316.84" cy="277.90" rx="3.40" ry="3.80" fill="#000"/>
<ellipse cx="327.10" cy="277.90" rx="3.15" ry="3.55" fill="#fff" stroke="#707070" stroke-width="0.8"/>
<ellipse cx="337.36" cy="277.90" rx="3.40" ry="3.80" fill="#000"/>
<ellipse cx="347.62" cy="277.90" rx="3.15" ry="3.55" fill="#fff" stroke="#707070" stroke-width="0.8"/>
<ellipse cx="357.88" cy="277.90" rx="3.15" ry="3.55" fill="#fff" stroke="#707070" stroke-width="0.8"/>
<ellipse cx="368.14" cy="277.90" rx="3.15" ry="3.55" fill="#fff" stroke="#707070" stroke-width="0.8"/>
<ellipse cx="275.80" cy="287.30" rx="3.40" ry="3.80" fill="#000"/>
<ellipse cx="286.06" cy="287.30" rx="3.15" ry="3.55" fill="#fff" stroke="#707070" stroke-width="0.8"/>
<ellipse cx="296.32" cy="287.30" rx="3.15" ry="3.55" fill="#fff" stroke="#707070" stroke-width="0.8"/>
<ellipse cx="306.58" cy="287.30" rx="3.15" ry="3.55" fill="#fff" stroke="#707070" stroke-width="0.8"/>
<ellipse cx="316.84" cy="287.30" rx="3.40" ry="3.80" fill="#000"/>
<ellipse cx="327.10" cy="287.30" rx="3.15" ry="3.55" fill="#fff" stroke="#707070" stroke-width="0.8"/>
<ellipse cx="337.36" cy="287.30" rx="3.15" ry="3.55" fill="#fff" stroke="#707070" stroke-width="0.8"/>
<ellipse cx="347.62" cy="287.30" rx="3.15" ry="3.55" fill="#fff" stroke="#707070" stroke-width="0.8"/>
<ellipse cx="357.88" cy="287.30" rx="3.15" ry="3.55" fill="#fff" stroke="#707070" stroke-width="0.8"/>
<ellipse cx="368.14" cy="287.30" rx="3.15" ry="3.55" fill="#fff" stroke="#707070" stroke-width="0.8"/>
<ellipse cx="398.00" cy="221.20" rx="3.15" ry="3.55" fill="#fff" stroke="#707070" stroke-width="0.8"/>
<ellipse cx="408.24" cy="221.20" rx="3.15" ry="3.55" fill="#fff" stroke="#707070" stroke-width="0.8"/>
<ellipse cx="418.48" cy="221.20" rx="3.15" ry="3.55" fill="#fff" stroke="#707070" stroke-width="0.8"/>
<ellipse cx="428.72" cy="221.20" rx="3.40" ry="3.80" fill="#000"/>
<ellipse cx="438.96" cy="221.20" rx="3.40" ry="3.80" fill="#000"/>
<ellipse cx="449.20" cy="221.20" rx="3.15" ry="3.55" fill="#fff" stroke="#707070" stroke-width="0.8"/>
<ellipse cx="459.44" cy="221.20" rx="3.40" ry="3.80" fill="#000"/>
<ellipse cx="469.68" cy="221.20" rx="3.15" ry="3.55" fill="#fff" stroke="#707070" stroke-width="0.8"/>
<ellipse cx="479.92" cy="221.20" rx="3.40" ry="3.80" fill="#000"/>
<ellipse cx="490.16" cy="221.20" rx="3.15" ry="3.55" fill="#fff" stroke="#707070" stroke-width="0.8"/>
<ellipse cx="398.00" cy="230.70" rx="3.15" ry="3.55" fill="#fff" stroke="#707070" stroke-width="0.8"/>
<ellipse cx="408.24" cy="230.70" rx="3.15" ry="3.55" fill="#fff" stroke="#707070" stroke-width="0.8"/>
<ellipse cx="418.48" cy="230.70" rx="3.15" ry="3.55" fill="#fff" stroke="#707070" stroke-width="0.8"/>
<ellipse cx="428.72" cy="230.70" rx="3.15" ry="3.55" fill="#fff" stroke="#707070" stroke-width="0.8"/>
<ellipse cx="438.96" cy="230.70" rx="3.40" ry="3.80" fill="#000"/>
<ellipse cx="449.20" cy="230.70" rx="3.40" ry="3.80" fill="#000"/>
<ellipse cx="459.44" cy="230.70" rx="3.40" ry="3.80" fill="#000"/>
<ellipse cx="469.68" cy="230.70" rx="3.15" ry="3.55" fill="#fff" stroke="#707070" stroke-width="0.8"/>
<ellipse cx="479.92" cy="230.70" rx="3.15" ry="3.55" fill="#fff" stroke="#707070" stroke-width="0.8"/>
<ellipse cx="490.16" cy="230.70" rx="3.15" ry="3.55" fill="#fff" stroke="#707070" stroke-width="0.8"/>
<ellipse cx="398.00" cy="241.30" rx="3.15" ry="3.55" fill="#fff" stroke="#707070" stroke-width="0.8"/>
<ellipse cx="408.24" cy="241.30" rx="3.15" ry="3.55" fill="#fff" stroke="#707070" stroke-width="0.8"/>
<ellipse cx="418.48" cy="241.30" rx="3.15" ry="3.55" fill="#fff" stroke="#707070" stroke-width="0.8"/>
<ellipse cx="428.72" cy="241.30" rx="3.15" ry="3.55" fill="#fff" stroke="#707070" stroke-width="0.8"/>
<ellipse cx="438.96" cy="241.30" rx="3.40" ry="3.80" fill="#000"/>
<ellipse cx="449.20" cy="241.30" rx="3.15" ry="3.55" fill="#fff" stroke="#707070" stroke-width="0.8"/>
<ellipse cx="459.44" cy="241.30" rx="3.40" ry="3.80" fill="#000"/>
<ellipse cx="469.68" cy="241.30" rx="3.15" ry="3.55" fill="#fff" stroke="#707070" stroke-width="0.8"/>
<ellipse cx="479.92" cy="241.30" rx="3.15" ry="3.55" fill="#fff" stroke="#707070" stroke-width="0.8"/>
<ellipse cx="490.16" cy="241.30" rx="3.15" ry="3.55" fill="#fff" stroke="#707070" stroke-width="0.8"/>
<ellipse cx="398.00" cy="251.20" rx="3.15" ry="3.55" fill="#fff" stroke="#707070" stroke-width="0.8"/>
<ellipse cx="408.24" cy="251.20" rx="3.15" ry="3.55" fill="#fff" stroke="#707070" stroke-width="0.8"/>
<ellipse cx="418.48" cy="251.20" rx="3.15" ry="3.55" fill="#fff" stroke="#707070" stroke-width="0.8"/>
<ellipse cx="428.72" cy="251.20" rx="3.40" ry="3.80" fill="#000"/>
<ellipse cx="438.96" cy="251.20" rx="3.40" ry="3.80" fill="#000"/>
<ellipse cx="449.20" cy="251.20" rx="3.15" ry="3.55" fill="#fff" stroke="#707070" stroke-width="0.8"/>
<ellipse cx="459.44" cy="251.20" rx="3.15" ry="3.55" fill="#fff" stroke="#707070" stroke-width="0.8"/>
<ellipse cx="469.68" cy="251.20" rx="3.15" ry="3.55" fill="#fff" stroke="#707070" stroke-width="0.8"/>
<ellipse cx="479.92" cy="251.20" rx="3.15" ry="3.55" fill="#fff" stroke="#707070" stroke-width="0.8"/>
<ellipse cx="490.16" cy="251.20" rx="3.15" ry="3.55" fill="#fff" stroke="#707070" stroke-width="0.8"/>
<ellipse cx="398.00" cy="259.70" rx="3.15" ry="3.55" fill="#fff" stroke="#707070" stroke-width="0.8"/>
<ellipse cx="408.24" cy="259.70" rx="3.15" ry="3.55" fill="#fff" stroke="#707070" stroke-width="0.8"/>
<ellipse cx="418.48" cy="259.70" rx="3.15" ry="3.55" fill="#fff" stroke="#707070" stroke-width="0.8"/>
<ellipse cx="428.72" cy="259.70" rx="3.15" ry="3.55" fill="#fff" stroke="#707070" stroke-width="0.8"/>
<ellipse cx="438.96" cy="259.70" rx="3.15" ry="3.55" fill="#fff" stroke="#707070" stroke-width="0.8"/>
<ellipse cx="449.20" cy="259.70" rx="3.15" ry="3.55" fill="#fff" stroke="#707070" stroke-width="0.8"/>
<ellipse cx="459.44" cy="259.70" rx="3.40" ry="3.80" fill="#000"/>
<ellipse cx="469.68" cy="259.70" rx="3.15" ry="3.55" fill="#fff" stroke="#707070" stroke-width="0.8"/>
<ellipse cx="479.92" cy="259.70" rx="3.15" ry="3.55" fill="#fff" stroke="#707070" stroke-width="0.8"/>
<ellipse cx="490.16" cy="259.70" rx="3.40" ry="3.80" fill="#000"/>
<ellipse cx="398.00" cy="268.90" rx="3.15" ry="3.55" fill="#fff" stroke="#707070" stroke-width="0.8"/>
<ellipse cx="408.24" cy="268.90" rx="3.15" ry="3.55" fill="#fff" stroke="#707070" stroke-width="0.8"/>
<ellipse cx="418.48" cy="268.90" rx="3.15" ry="3.55" fill="#fff" stroke="#707070" stroke-width="0.8"/>
<ellipse cx="428.72" cy="268.90" rx="3.15" ry="3.55" fill="#fff" stroke="#707070" stroke-width="0.8"/>
<ellipse cx="438.96" cy="268.90" rx="3.15" ry="3.55" fill="#fff" stroke="#707070" stroke-width="0.8"/>
<ellipse cx="449.20" cy="268.90" rx="3.40" ry="3.80" fill="#000"/>
<ellipse cx="459.44" cy="268.90" rx="3.40" ry="3.80" fill="#000"/>
<ellipse cx="469.68" cy="268.90" rx="3.15" ry="3.55" fill="#fff" stroke="#707070" stroke-width="0.8"/>
<ellipse cx="479.92" cy="268.90" rx="3.15" ry="3.55" fill="#fff" stroke="#707070" stroke-width="0.8"/>
<ellipse cx="490.16" cy="268.90" rx="3.15" ry="3.55" fill="#fff" stroke="#707070" stroke-width="0.8"/>
<ellipse cx="398.00" cy="277.90" rx="3.15" ry="3.55" fill="#fff" stroke="#707070" stroke-width="0.8"/>
<ellipse cx="408.24" cy="277.90" rx="3.15" ry="3.55" fill="#fff" stroke="#707070" stroke-width="0.8"/>
<ellipse cx="418.48" cy="277.90" rx="3.15" ry="3.55" fill="#fff" stroke="#707070" stroke-width="0.8"/>
<ellipse cx="428.72" cy="277.90" rx="3.15" ry="3.55" fill="#fff" stroke="#707070" stroke-width="0.8"/>
<ellipse cx="438.96" cy="277.90" rx="3.15" ry="3.55" fill="#fff" stroke="#707070" stroke-width="0.8"/>
<ellipse cx="449.20" cy="277.90" rx="3.15" ry="3.55" fill="#fff" stroke="#707070" stroke-width="0.8"/>
<ellipse cx="459.44" cy="277.90" rx="3.40" ry="3.80" fill="#000"/>
<ellipse cx="469.68" cy="277.90" rx="3.15" ry="3.55" fill="#fff" stroke="#707070" stroke-width="0.8"/>
<ellipse cx="479.92" cy="277.90" rx="3.15" ry="3.55" fill="#fff" stroke="#707070" stroke-width="0.8"/>
<ellipse cx="490.16" cy="277.90" rx="3.15" ry="3.55" fill="#fff" stroke="#707070" stroke-width="0.8"/>
<ellipse cx="398.00" cy="287.30" rx="3.15" ry="3.55" fill="#fff" stroke="#707070" stroke-width="0.8"/>
<ellipse cx="408.24" cy="287.30" rx="3.15" ry="3.55" fill="#fff" stroke="#707070" stroke-width="0.8"/>
<ellipse cx="418.48" cy="287.30" rx="3.15" ry="3.55" fill="#fff" stroke="#707070" stroke-width="0.8"/>
<ellipse cx="428.72" cy="287.30" rx="3.15" ry="3.55" fill="#fff" stroke="#707070" stroke-width="0.8"/>
<ellipse cx="438.96" cy="287.30" rx="3.40" ry="3.80" fill="#000"/>
<ellipse cx="449.20" cy="287.30" rx="3.15" ry="3.55" fill="#fff" stroke="#707070" stroke-width="0.8"/>
<ellipse cx="459.44" cy="287.30" rx="3.15" ry="3.55" fill="#fff" stroke="#707070" stroke-width="0.8"/>
<ellipse cx="469.68" cy="287.30" rx="3.15" ry="3.55" fill="#fff" stroke="#707070" stroke-width="0.8"/>
<ellipse cx="479.92" cy="287.30" rx="3.15" ry="3.55" fill="#fff" stroke="#707070" stroke-width="0.8"/>
<ellipse cx="490.16" cy="287.30" rx="3.15" ry="3.55" fill="#fff" stroke="#707070" stroke-width="0.8"/>
<text x="306.73" y="307.80" font-size="10.70" font-weight="bold" fill="#111"><tspan>37.5%</tspan></text>
<text x="434.83" y="307.60" font-size="10.67" font-weight="bold" fill="#111"><tspan>21.2%</tspan></text>
<text x="553.19" y="43.20" font-size="10.73" font-weight="bold" fill="#111"><tspan font-style="italic">MXD4</tspan></text>
<text transform="translate(522.67,136.19) rotate(-90)" font-size="10.58" font-weight="bold" fill="#111"><tspan>Methylated CpGs %</tspan></text>
<line x1="548.5" y1="52.6" x2="548.5" y2="125.8" stroke="#6a6a6a" stroke-width="1"/>
<line x1="546.3" y1="52.6" x2="548.5" y2="52.6" stroke="#6a6a6a" stroke-width="1"/>
<text x="530.37" y="56.30" font-size="10.40" font-weight="bold" fill="#111"><tspan>50</tspan></text>
<line x1="546.3" y1="67.24" x2="548.5" y2="67.24" stroke="#6a6a6a" stroke-width="1"/>
<text x="530.37" y="70.60" font-size="10.40" font-weight="bold" fill="#111"><tspan>40</tspan></text>
<line x1="546.3" y1="81.88" x2="548.5" y2="81.88" stroke="#6a6a6a" stroke-width="1"/>
<text x="530.37" y="84.90" font-size="10.40" font-weight="bold" fill="#111"><tspan>30</tspan></text>
<line x1="546.3" y1="96.51999999999998" x2="548.5" y2="96.51999999999998" stroke="#6a6a6a" stroke-width="1"/>
<text x="530.37" y="99.20" font-size="10.40" font-weight="bold" fill="#111"><tspan>20</tspan></text>
<line x1="546.3" y1="111.16" x2="548.5" y2="111.16" stroke="#6a6a6a" stroke-width="1"/>
<text x="530.37" y="113.50" font-size="10.40" font-weight="bold" fill="#111"><tspan>10</tspan></text>
<line x1="546.3" y1="125.79999999999998" x2="548.5" y2="125.79999999999998" stroke="#6a6a6a" stroke-width="1"/>
<text x="536.14" y="127.80" font-size="10.40" font-weight="bold" fill="#111"><tspan>0</tspan></text>
<line x1="548.5" y1="125.8" x2="578" y2="125.8" stroke="#6a6a6a" stroke-width="1"/>
<line x1="555.7" y1="125.8" x2="555.7" y2="127.8" stroke="#6a6a6a" stroke-width="1"/>
<line x1="570.1" y1="125.8" x2="570.1" y2="127.8" stroke="#6a6a6a" stroke-width="1"/>
<line x1="555.7" y1="79" x2="555.7" y2="69.3" stroke="#111" stroke-width="1"/>
<line x1="553.3000000000001" y1="69.3" x2="558.1" y2="69.3" stroke="#111" stroke-width="1"/>
<rect x="550.50" y="79.00" width="10.40" height="46.80" fill="#000" stroke="#222" stroke-width="0.8"/>
<line x1="570.2" y1="104.9" x2="570.2" y2="103.1" stroke="#111" stroke-width="1"/>
<line x1="567.8000000000001" y1="103.1" x2="572.6" y2="103.1" stroke="#111" stroke-width="1"/>
<rect x="565.40" y="104.90" width="9.60" height="20.90" fill="#e62229" stroke="#222" stroke-width="0.8"/>
<text x="566.77" y="100.87" font-size="8.8" font-weight="bold" fill="#111" style="stroke:none">**</text>
<text transform="translate(525.10,149.30) rotate(-22)" font-size="10.10" font-weight="bold" fill="#111"><tspan>shCtrl</tspan></text>
<text transform="translate(534.70,156.00) rotate(-22)" font-size="10.10" font-weight="bold" fill="#111"><tspan>shUHRF1</tspan></text>
<text x="559.19" y="191.40" font-size="10.73" font-weight="bold" fill="#111"><tspan font-style="italic">MXD4</tspan></text>
<text transform="translate(522.67,286.19) rotate(-90)" font-size="10.58" font-weight="bold" fill="#111"><tspan>Methylated CpGs %</tspan></text>
<line x1="548.5" y1="197.7" x2="548.5" y2="280.5" stroke="#6a6a6a" stroke-width="1"/>
<line x1="546.3" y1="197.7" x2="548.5" y2="197.7" stroke="#6a6a6a" stroke-width="1"/>
<text x="530.37" y="200.40" font-size="10.40" font-weight="bold" fill="#111"><tspan>50</tspan></text>
<line x1="546.3" y1="214.26" x2="548.5" y2="214.26" stroke="#6a6a6a" stroke-width="1"/>
<text x="530.37" y="217.00" font-size="10.40" font-weight="bold" fill="#111"><tspan>40</tspan></text>
<line x1="546.3" y1="230.82" x2="548.5" y2="230.82" stroke="#6a6a6a" stroke-width="1"/>
<text x="530.37" y="233.60" font-size="10.40" font-weight="bold" fill="#111"><tspan>30</tspan></text>
<line x1="546.3" y1="247.38" x2="548.5" y2="247.38" stroke="#6a6a6a" stroke-width="1"/>
<text x="530.37" y="250.20" font-size="10.40" font-weight="bold" fill="#111"><tspan>20</tspan></text>
<line x1="546.3" y1="263.94" x2="548.5" y2="263.94" stroke="#6a6a6a" stroke-width="1"/>
<text x="530.37" y="266.80" font-size="10.40" font-weight="bold" fill="#111"><tspan>10</tspan></text>
<line x1="546.3" y1="280.5" x2="548.5" y2="280.5" stroke="#6a6a6a" stroke-width="1"/>
<text x="536.14" y="283.40" font-size="10.40" font-weight="bold" fill="#111"><tspan>0</tspan></text>
<line x1="548.5" y1="280.5" x2="581.7" y2="280.5" stroke="#6a6a6a" stroke-width="1"/>
<line x1="556.4" y1="280.5" x2="556.4" y2="282.5" stroke="#6a6a6a" stroke-width="1"/>
<line x1="572.8" y1="280.5" x2="572.8" y2="282.5" stroke="#6a6a6a" stroke-width="1"/>
<line x1="556.2" y1="221.2" x2="556.2" y2="210.3" stroke="#111" stroke-width="1"/>
<line x1="553.8000000000001" y1="210.3" x2="558.6" y2="210.3" stroke="#111" stroke-width="1"/>
<rect x="550.50" y="221.20" width="11.40" height="59.30" fill="#000" stroke="#222" stroke-width="0.8"/>
<line x1="573.05" y1="246.3" x2="573.05" y2="240.1" stroke="#111" stroke-width="1"/>
<line x1="570.65" y1="240.1" x2="575.4499999999999" y2="240.1" stroke="#111" stroke-width="1"/>
<rect x="567.60" y="246.30" width="10.90" height="34.20" fill="#e62229" stroke="#222" stroke-width="0.8"/>
<text x="569.67" y="239.77" font-size="8.8" font-weight="bold" fill="#111" style="stroke:none">**</text>
<text transform="translate(528.10,304.90) rotate(-22)" font-size="10.10" font-weight="bold" fill="#111"><tspan>shCtrl</tspan></text>
<text transform="translate(537.50,311.00) rotate(-22)" font-size="10.10" font-weight="bold" fill="#111"><tspan>sh</tspan><tspan font-style="italic">UHRF1</tspan></text>
<text x="18.99" y="335.60" font-size="15.20" font-weight="bold" fill="#111"><tspan>e</tspan></text>
<text x="85.59" y="336.30" font-size="10.88" font-weight="bold" fill="#111"><tspan>Kasumi-1</tspan></text>
<line x1="75.6" y1="339.3" x2="140.7" y2="339.3" stroke="#111" stroke-width="1.2"/>
<rect x="75.60" y="359.50" width="65.10" height="16.60" fill="#fbfbfb" stroke="#858585" stroke-width="1.0"/>
<text x="42.01" y="371.40" font-size="10.50" font-weight="bold" fill="#111"><tspan>MXD4</tspan></text>
<line x1="141.2" y1="371.1" x2="145.0" y2="371.1" stroke="#111" stroke-width="1.2"/>
<text x="146.73" y="374.70" font-size="10.67" font-weight="bold" fill="#111"><tspan>25</tspan></text>
<path d="M86.80,368.90 C87.14,367.86 87.92,367.60 89.94,367.60 L94.86,367.60 C96.88,367.60 97.66,367.86 98.00,368.90 C97.66,369.94 96.88,370.20 94.86,370.20 L89.94,370.20 C87.92,370.20 87.14,369.94 86.80,368.90Z" fill="#000" fill-opacity="0.95" filter="url(#bl)"/>
<path d="M100.70,368.50 C101.10,366.98 102.03,366.60 104.42,366.60 L110.28,366.60 C112.67,366.60 113.60,366.98 114.00,368.50 C113.60,370.02 112.67,370.40 110.28,370.40 L104.42,370.40 C102.03,370.40 101.10,370.02 100.70,368.50Z" fill="#000" fill-opacity="1" filter="url(#bl)"/>
<path d="M116.40,368.20 C116.84,366.00 117.87,365.45 120.52,365.45 L126.98,365.45 C129.63,365.45 130.66,366.00 131.10,368.20 C130.66,370.40 129.63,370.95 126.98,370.95 L120.52,370.95 C117.87,370.95 116.84,370.40 116.40,368.20Z" fill="#000" fill-opacity="1" filter="url(#bl)"/>
<rect x="75.60" y="379.30" width="65.10" height="17.30" fill="#fbfbfb" stroke="#858585" stroke-width="1.0"/>
<text x="46.27" y="392.50" font-size="10.50" font-weight="bold" fill="#111"><tspan>E2F1</tspan></text>
<line x1="141.2" y1="388.6" x2="145.0" y2="388.6" stroke="#111" stroke-width="1.2"/>
<text x="146.67" y="392.20" font-size="10.87" font-weight="bold" fill="#111"><tspan>70</tspan></text>
<path d="M82.00,388.60 C82.46,387.08 83.52,386.70 86.26,386.70 L92.94,386.70 C95.68,386.70 96.74,387.08 97.20,388.60 C96.74,390.12 95.68,390.50 92.94,390.50 L86.26,390.50 C83.52,390.50 82.46,390.12 82.00,388.60Z" fill="#000" fill-opacity="1" filter="url(#bl)"/>
<path d="M100.40,388.40 C100.78,387.36 101.65,387.10 103.90,387.10 L109.40,387.10 C111.65,387.10 112.53,387.36 112.90,388.40 C112.53,389.44 111.65,389.70 109.40,389.70 L103.90,389.70 C101.65,389.70 100.78,389.44 100.40,388.40Z" fill="#000" fill-opacity="0.95" filter="url(#bl)"/>
<rect x="75.60" y="399.80" width="65.10" height="17.50" fill="#fbfbfb" stroke="#858585" stroke-width="1.0"/>
<text x="46.42" y="412.40" font-size="10.50" font-weight="bold" fill="#111"><tspan>E2F2</tspan></text>
<line x1="141.2" y1="406.5" x2="145.0" y2="406.5" stroke="#111" stroke-width="1.2"/>
<text x="146.78" y="410.10" font-size="10.77" font-weight="bold" fill="#111"><tspan>50</tspan></text>
<path d="M81.50,409.40 C81.97,407.72 83.07,407.30 85.90,407.30 L92.80,407.30 C95.63,407.30 96.73,407.72 97.20,409.40 C96.73,411.08 95.63,411.50 92.80,411.50 L85.90,411.50 C83.07,411.50 81.97,411.08 81.50,409.40Z" fill="#000" fill-opacity="1" filter="url(#bl)"/>
<path d="M100.40,409.20 C100.78,408.00 101.68,407.70 103.98,407.70 L109.62,407.70 C111.92,407.70 112.82,408.00 113.20,409.20 C112.82,410.40 111.92,410.70 109.62,410.70 L103.98,410.70 C101.68,410.70 100.78,410.40 100.40,409.20Z" fill="#000" fill-opacity="0.95" filter="url(#bl)"/>
<path d="M117.70,409.40 C118.09,408.68 119.01,408.50 121.37,408.50 L127.13,408.50 C129.49,408.50 130.41,408.68 130.80,409.40 C130.41,410.12 129.49,410.30 127.13,410.30 L121.37,410.30 C119.01,410.30 118.09,410.12 117.70,409.40Z" fill="#000" fill-opacity="0.25" filter="url(#bl)"/>
<rect x="75.60" y="420.40" width="65.10" height="16.80" fill="#fbfbfb" stroke="#858585" stroke-width="1.0"/>
<text x="36.40" y="433.00" font-size="10.50" font-weight="bold" fill="#111"><tspan>UHRF1</tspan></text>
<line x1="141.2" y1="426.8" x2="145.0" y2="426.8" stroke="#111" stroke-width="1.2"/>
<text x="146.46" y="430.40" font-size="10.73" font-weight="bold" fill="#111"><tspan>100</tspan></text>
<path d="M82.00,430.00 C82.54,428.32 83.81,427.90 87.07,427.90 L95.03,427.90 C98.29,427.90 99.56,428.32 100.10,430.00 C99.56,431.68 98.29,432.10 95.03,432.10 L87.07,432.10 C83.81,432.10 82.54,431.68 82.00,430.00Z" fill="#000" fill-opacity="1" filter="url(#bl)"/>
<path d="M103.60,430.00 C103.94,429.40 104.72,429.25 106.74,429.25 L111.66,429.25 C113.68,429.25 114.46,429.40 114.80,430.00 C114.46,430.60 113.68,430.75 111.66,430.75 L106.74,430.75 C104.72,430.75 103.94,430.60 103.60,430.00Z" fill="#000" fill-opacity="0.1" filter="url(#bl)"/>
<rect x="75.60" y="440.40" width="65.10" height="17.30" fill="#f8f8f8" stroke="#858585" stroke-width="1.0"/>
<text x="39.70" y="453.40" font-size="10.50" font-weight="bold" fill="#111"><tspan>ACTIN</tspan></text>
<line x1="141.2" y1="443.9" x2="145.0" y2="443.9" stroke="#111" stroke-width="1.2"/>
<text x="146.78" y="447.50" font-size="10.77" font-weight="bold" fill="#111"><tspan>50</tspan></text>
<path d="M80.90,450.50 C81.44,448.58 82.71,448.10 85.97,448.10 L93.93,448.10 C97.19,448.10 98.46,448.58 99.00,450.50 C98.46,452.42 97.19,452.90 93.93,452.90 L85.97,452.90 C82.71,452.90 81.44,452.42 80.90,450.50Z" fill="#000" fill-opacity="1" filter="url(#bl)"/>
<path d="M97.00,450.60 C97.57,448.84 98.90,448.40 102.32,448.40 L110.68,448.40 C114.10,448.40 115.43,448.84 116.00,450.60 C115.43,452.36 114.10,452.80 110.68,452.80 L102.32,452.80 C98.90,452.80 97.57,452.36 97.00,450.60Z" fill="#000" fill-opacity="1" filter="url(#bl)"/>
<path d="M114.00,450.40 C114.58,448.64 115.92,448.20 119.38,448.20 L127.82,448.20 C131.28,448.20 132.62,448.64 133.20,450.40 C132.62,452.16 131.28,452.60 127.82,452.60 L119.38,452.60 C115.92,452.60 114.58,452.16 114.00,450.40Z" fill="#000" fill-opacity="1" filter="url(#bl)"/>
<text x="234.80" y="337.30" font-size="10.33" font-weight="bold" fill="#111"><tspan>THP-1</tspan></text>
<line x1="218.1" y1="340.3" x2="282.9" y2="340.3" stroke="#111" stroke-width="1.2"/>
<rect x="218.10" y="359.50" width="64.80" height="16.60" fill="#fbfbfb" stroke="#858585" stroke-width="1.0"/>
<text x="183.61" y="371.40" font-size="10.50" font-weight="bold" fill="#111"><tspan>MXD4</tspan></text>
<line x1="283.4" y1="371.1" x2="287.2" y2="371.1" stroke="#111" stroke-width="1.2"/>
<text x="288.43" y="374.70" font-size="10.67" font-weight="bold" fill="#111"><tspan>25</tspan></text>
<path d="M227.20,367.80 C227.56,367.08 228.40,366.90 230.56,366.90 L235.84,366.90 C238.00,366.90 238.84,367.08 239.20,367.80 C238.84,368.52 238.00,368.70 235.84,368.70 L230.56,368.70 C228.40,368.70 227.56,368.52 227.20,367.80Z" fill="#000" fill-opacity="0.3" filter="url(#bl)"/>
<path d="M244.80,368.00 C245.18,366.40 246.08,366.00 248.38,366.00 L254.02,366.00 C256.32,366.00 257.22,366.40 257.60,368.00 C257.22,369.60 256.32,370.00 254.02,370.00 L248.38,370.00 C246.08,370.00 245.18,369.60 244.80,368.00Z" fill="#000" fill-opacity="1" filter="url(#bl)"/>
<path d="M259.70,367.80 C260.14,365.60 261.17,365.05 263.82,365.05 L270.28,365.05 C272.93,365.05 273.96,365.60 274.40,367.80 C273.96,370.00 272.93,370.55 270.28,370.55 L263.82,370.55 C261.17,370.55 260.14,370.00 259.70,367.80Z" fill="#000" fill-opacity="1" filter="url(#bl)"/>
<rect x="218.10" y="379.30" width="64.80" height="17.30" fill="#fbfbfb" stroke="#858585" stroke-width="1.0"/>
<text x="187.87" y="392.50" font-size="10.50" font-weight="bold" fill="#111"><tspan>E2F1</tspan></text>
<line x1="283.4" y1="388.6" x2="287.2" y2="388.6" stroke="#111" stroke-width="1.2"/>
<text x="288.37" y="392.20" font-size="10.87" font-weight="bold" fill="#111"><tspan>70</tspan></text>
<path d="M224.80,388.60 C225.34,386.60 226.59,386.10 229.81,386.10 L237.69,386.10 C240.91,386.10 242.16,386.60 242.70,388.60 C242.16,390.60 240.91,391.10 237.69,391.10 L229.81,391.10 C226.59,391.10 225.34,390.60 224.80,388.60Z" fill="#000" fill-opacity="1" filter="url(#bl)"/>
<path d="M244.00,388.60 C244.43,386.92 245.44,386.50 248.03,386.50 L254.37,386.50 C256.96,386.50 257.97,386.92 258.40,388.60 C257.97,390.28 256.96,390.70 254.37,390.70 L248.03,390.70 C245.44,390.70 244.43,390.28 244.00,388.60Z" fill="#000" fill-opacity="1" filter="url(#bl)"/>
<path d="M260.00,388.80 C260.46,387.68 261.52,387.40 264.26,387.40 L270.94,387.40 C273.68,387.40 274.74,387.68 275.20,388.80 C274.74,389.92 273.68,390.20 270.94,390.20 L264.26,390.20 C261.52,390.20 260.46,389.92 260.00,388.80Z" fill="#000" fill-opacity="0.95" filter="url(#bl)"/>
<rect x="218.10" y="399.80" width="64.80" height="17.50" fill="#fbfbfb" stroke="#858585" stroke-width="1.0"/>
<text x="188.02" y="412.40" font-size="10.50" font-weight="bold" fill="#111"><tspan>E2F2</tspan></text>
<line x1="283.4" y1="406.5" x2="287.2" y2="406.5" stroke="#111" stroke-width="1.2"/>
<text x="288.48" y="410.10" font-size="10.77" font-weight="bold" fill="#111"><tspan>50</tspan></text>
<path d="M224.80,409.40 C225.33,407.40 226.56,406.90 229.73,406.90 L237.47,406.90 C240.64,406.90 241.87,407.40 242.40,409.40 C241.87,411.40 240.64,411.90 237.47,411.90 L229.73,411.90 C226.56,411.90 225.33,411.40 224.80,409.40Z" fill="#000" fill-opacity="1" filter="url(#bl)"/>
<path d="M244.80,409.60 C245.16,408.64 246.00,408.40 248.16,408.40 L253.44,408.40 C255.60,408.40 256.44,408.64 256.80,409.60 C256.44,410.56 255.60,410.80 253.44,410.80 L248.16,410.80 C246.00,410.80 245.16,410.56 244.80,409.60Z" fill="#000" fill-opacity="0.55" filter="url(#bl)"/>
<path d="M260.80,409.40 C261.23,408.20 262.24,407.90 264.83,407.90 L271.17,407.90 C273.76,407.90 274.77,408.20 275.20,409.40 C274.77,410.60 273.76,410.90 271.17,410.90 L264.83,410.90 C262.24,410.90 261.23,410.60 260.80,409.40Z" fill="#000" fill-opacity="0.9" filter="url(#bl)"/>
<rect x="218.10" y="420.40" width="64.80" height="16.80" fill="#fbfbfb" stroke="#858585" stroke-width="1.0"/>
<text x="178.00" y="433.00" font-size="10.50" font-weight="bold" fill="#111"><tspan>UHRF1</tspan></text>
<line x1="283.4" y1="426.8" x2="287.2" y2="426.8" stroke="#111" stroke-width="1.2"/>
<text x="288.16" y="430.40" font-size="10.73" font-weight="bold" fill="#111"><tspan>100</tspan></text>
<path d="M226.00,429.60 C226.59,426.80 227.96,426.10 231.49,426.10 L240.11,426.10 C243.64,426.10 245.01,426.80 245.60,429.60 C245.01,432.40 243.64,433.10 240.11,433.10 L231.49,433.10 C227.96,433.10 226.59,432.40 226.00,429.60Z" fill="#000" fill-opacity="1" filter="url(#bl)"/>
<path d="M247.20,429.60 C247.57,428.48 248.45,428.20 250.70,428.20 L256.20,428.20 C258.45,428.20 259.32,428.48 259.70,429.60 C259.32,430.72 258.45,431.00 256.20,431.00 L250.70,431.00 C248.45,431.00 247.57,430.72 247.20,429.60Z" fill="#000" fill-opacity="1" filter="url(#bl)"/>
<rect x="218.10" y="440.40" width="64.80" height="17.30" fill="#ececec" stroke="#858585" stroke-width="1.0"/>
<text x="181.31" y="453.40" font-size="10.50" font-weight="bold" fill="#111"><tspan>ACTIN</tspan></text>
<line x1="283.4" y1="443.9" x2="287.2" y2="443.9" stroke="#111" stroke-width="1.2"/>
<text x="288.48" y="447.50" font-size="10.77" font-weight="bold" fill="#111"><tspan>50</tspan></text>
<path d="M226.00,450.50 C226.47,448.82 227.56,448.40 230.37,448.40 L237.23,448.40 C240.04,448.40 241.13,448.82 241.60,450.50 C241.13,452.18 240.04,452.60 237.23,452.60 L230.37,452.60 C227.56,452.60 226.47,452.18 226.00,450.50Z" fill="#000" fill-opacity="1" filter="url(#bl)"/>
<path d="M242.90,450.50 C243.32,448.82 244.29,448.40 246.79,448.40 L252.91,448.40 C255.41,448.40 256.38,448.82 256.80,450.50 C256.38,452.18 255.41,452.60 252.91,452.60 L246.79,452.60 C244.29,452.60 243.32,452.18 242.90,450.50Z" fill="#000" fill-opacity="1" filter="url(#bl)"/>
<path d="M258.40,450.50 C258.87,448.82 259.97,448.40 262.80,448.40 L269.70,448.40 C272.53,448.40 273.63,448.82 274.10,450.50 C273.63,452.18 272.53,452.60 269.70,452.60 L262.80,452.60 C259.97,452.60 258.87,452.18 258.40,450.50Z" fill="#000" fill-opacity="1" filter="url(#bl)"/>
<text x="25.32" y="352.70" font-size="10.79" font-weight="bold" fill="#111"><tspan>sh</tspan><tspan font-style="italic">UHRF1</tspan></text>
<text x="81.07" y="353.10" font-size="10.80" font-weight="bold" fill="#111"><tspan>Ctrl</tspan></text>
<text x="104.14" y="353.10" font-size="10.56" font-weight="bold" fill="#111"><tspan>#1</tspan></text>
<text x="124.54" y="353.10" font-size="10.70" font-weight="bold" fill="#111"><tspan>#2</tspan></text>
<text x="142.52" y="357.20" font-size="10.44" font-weight="bold" fill="#111"><tspan>KDa</tspan></text>
<text x="168.72" y="352.70" font-size="10.77" font-weight="bold" fill="#111"><tspan>sh</tspan><tspan font-style="italic">UHRF1</tspan></text>
<text x="221.47" y="353.10" font-size="10.80" font-weight="bold" fill="#111"><tspan>Ctrl</tspan></text>
<text x="245.04" y="353.10" font-size="10.56" font-weight="bold" fill="#111"><tspan>#1</tspan></text>
<text x="265.44" y="353.10" font-size="10.70" font-weight="bold" fill="#111"><tspan>#2</tspan></text>
<text x="284.63" y="357.20" font-size="10.23" font-weight="bold" fill="#111"><tspan>KDa</tspan></text>
<text x="331.27" y="335.60" font-size="15.20" font-weight="bold" fill="#111"><tspan>f</tspan></text>
<text x="393.74" y="335.30" font-size="10.30" font-weight="bold" fill="#111"><tspan>AE9a</tspan></text>
<text x="494.89" y="335.30" font-size="10.92" font-weight="bold" fill="#111"><tspan>MLL-AF9</tspan></text>
<line x1="372.5" y1="346.7" x2="372.5" y2="440.7" stroke="#6a6a6a" stroke-width="1"/>
<line x1="370.3" y1="346.7" x2="372.5" y2="346.7" stroke="#6a6a6a" stroke-width="1"/>
<text x="352.56" y="350.40" font-size="10.40" font-weight="bold" fill="#111"><tspan>2.0</tspan></text>
<line x1="370.3" y1="370.2" x2="372.5" y2="370.2" stroke="#6a6a6a" stroke-width="1"/>
<text x="352.40" y="373.90" font-size="10.40" font-weight="bold" fill="#111"><tspan>1.5</tspan></text>
<line x1="370.3" y1="393.7" x2="372.5" y2="393.7" stroke="#6a6a6a" stroke-width="1"/>
<text x="352.56" y="397.40" font-size="10.40" font-weight="bold" fill="#111"><tspan>1.0</tspan></text>
<line x1="370.3" y1="417.2" x2="372.5" y2="417.2" stroke="#6a6a6a" stroke-width="1"/>
<text x="352.40" y="420.90" font-size="10.40" font-weight="bold" fill="#111"><tspan>0.5</tspan></text>
<line x1="370.3" y1="440.7" x2="372.5" y2="440.7" stroke="#6a6a6a" stroke-width="1"/>
<text x="361.24" y="444.40" font-size="10.40" font-weight="bold" fill="#111"><tspan>0</tspan></text>
<line x1="372.5" y1="440.7" x2="438.3" y2="440.7" stroke="#6a6a6a" stroke-width="1"/>
<line x1="388.9" y1="440.7" x2="388.9" y2="442.7" stroke="#6a6a6a" stroke-width="1"/>
<line x1="422.4" y1="440.7" x2="422.4" y2="442.7" stroke="#6a6a6a" stroke-width="1"/>
<line x1="382.54999999999995" y1="393.4" x2="382.54999999999995" y2="392.4" stroke="#111" stroke-width="1"/>
<line x1="380.15" y1="392.4" x2="384.94999999999993" y2="392.4" stroke="#111" stroke-width="1"/>
<rect x="377.20" y="393.40" width="10.70" height="47.30" fill="#000" stroke="#222" stroke-width="0.8"/>
<line x1="395.5" y1="415.9" x2="395.5" y2="415.2" stroke="#111" stroke-width="1"/>
<line x1="393.1" y1="415.2" x2="397.9" y2="415.2" stroke="#111" stroke-width="1"/>
<rect x="390.40" y="415.90" width="10.20" height="24.80" fill="#e62229" stroke="#222" stroke-width="0.8"/>
<line x1="415.9" y1="393.7" x2="415.9" y2="390.6" stroke="#111" stroke-width="1"/>
<line x1="413.5" y1="390.6" x2="418.29999999999995" y2="390.6" stroke="#111" stroke-width="1"/>
<rect x="410.80" y="393.70" width="10.20" height="47.00" fill="#000" stroke="#222" stroke-width="0.8"/>
<line x1="428.75" y1="367.6" x2="428.75" y2="362.5" stroke="#111" stroke-width="1"/>
<line x1="426.35" y1="362.5" x2="431.15" y2="362.5" stroke="#111" stroke-width="1"/>
<rect x="423.80" y="367.60" width="9.90" height="73.10" fill="#e62229" stroke="#222" stroke-width="0.8"/>
<text transform="translate(347.14,445.09) rotate(-90)" font-size="10.67" font-weight="bold" fill="#111"><tspan>Relative mRNA level</tspan></text>
<line x1="485.1" y1="348.1" x2="485.1" y2="440.7" stroke="#6a6a6a" stroke-width="1"/>
<line x1="482.90000000000003" y1="348.1" x2="485.1" y2="348.1" stroke="#6a6a6a" stroke-width="1"/>
<text x="467.16" y="351.80" font-size="10.40" font-weight="bold" fill="#111"><tspan>2.0</tspan></text>
<line x1="482.90000000000003" y1="371.25" x2="485.1" y2="371.25" stroke="#6a6a6a" stroke-width="1"/>
<text x="467.00" y="374.95" font-size="10.40" font-weight="bold" fill="#111"><tspan>1.5</tspan></text>
<line x1="482.90000000000003" y1="394.4" x2="485.1" y2="394.4" stroke="#6a6a6a" stroke-width="1"/>
<text x="467.16" y="398.10" font-size="10.40" font-weight="bold" fill="#111"><tspan>1.0</tspan></text>
<line x1="482.90000000000003" y1="417.55" x2="485.1" y2="417.55" stroke="#6a6a6a" stroke-width="1"/>
<text x="467.00" y="421.25" font-size="10.40" font-weight="bold" fill="#111"><tspan>0.5</tspan></text>
<line x1="482.90000000000003" y1="440.7" x2="485.1" y2="440.7" stroke="#6a6a6a" stroke-width="1"/>
<text x="475.84" y="444.40" font-size="10.40" font-weight="bold" fill="#111"><tspan>0</tspan></text>
<line x1="485.1" y1="440.7" x2="550" y2="440.7" stroke="#6a6a6a" stroke-width="1"/>
<line x1="502" y1="440.7" x2="502" y2="442.7" stroke="#6a6a6a" stroke-width="1"/>
<line x1="534.5" y1="440.7" x2="534.5" y2="442.7" stroke="#6a6a6a" stroke-width="1"/>
<line x1="495.04999999999995" y1="394.3" x2="495.04999999999995" y2="388.5" stroke="#111" stroke-width="1"/>
<line x1="492.65" y1="388.5" x2="497.44999999999993" y2="388.5" stroke="#111" stroke-width="1"/>
<rect x="489.40" y="394.30" width="11.30" height="46.40" fill="#000" stroke="#222" stroke-width="0.8"/>
<line x1="508.40000000000003" y1="426.6" x2="508.40000000000003" y2="425.2" stroke="#111" stroke-width="1"/>
<line x1="506.00000000000006" y1="425.2" x2="510.8" y2="425.2" stroke="#111" stroke-width="1"/>
<rect x="503.10" y="426.60" width="10.60" height="14.10" fill="#e62229" stroke="#222" stroke-width="0.8"/>
<line x1="527.7" y1="394.3" x2="527.7" y2="389.7" stroke="#111" stroke-width="1"/>
<line x1="525.3000000000001" y1="389.7" x2="530.1" y2="389.7" stroke="#111" stroke-width="1"/>
<rect x="522.20" y="394.30" width="11.00" height="46.40" fill="#000" stroke="#222" stroke-width="0.8"/>
<line x1="541.0" y1="363.4" x2="541.0" y2="360.8" stroke="#111" stroke-width="1"/>
<line x1="538.6" y1="360.8" x2="543.4" y2="360.8" stroke="#111" stroke-width="1"/>
<rect x="535.50" y="363.40" width="11.00" height="77.30" fill="#e62229" stroke="#222" stroke-width="0.8"/>
<text transform="translate(462.29,444.90) rotate(-90)" font-size="10.75" font-weight="bold" fill="#111"><tspan>Relative mRNA level</tspan></text>
<text x="390.15" y="413.87" font-size="8.8" font-weight="bold" fill="#111" style="stroke:none">***</text>
<text x="427.08" y="362.57" font-size="8.8" font-weight="bold" fill="#111" style="stroke:none">*</text>
<text x="507.78" y="423.77" font-size="8.8" font-weight="bold" fill="#111" style="stroke:none">*</text>
<text x="542.58" y="359.87" font-size="8.8" font-weight="bold" fill="#111" style="stroke:none">*</text>
<text x="371.87" y="455.00" font-size="10.58" font-weight="bold" fill="#111"><tspan font-style="italic">Uhrf1</tspan></text>
<text x="407.49" y="454.50" font-size="10.63" font-weight="bold" fill="#111"><tspan font-style="italic">Mxd4</tspan></text>
<text x="484.97" y="454.60" font-size="10.58" font-weight="bold" fill="#111"><tspan font-style="italic">Uhrf1</tspan></text>
<text x="520.29" y="454.60" font-size="10.44" font-weight="bold" fill="#111"><tspan font-style="italic">Mxd4</tspan></text>
<rect x="552.90" y="349.80" width="10.50" height="5.40" fill="#000" stroke="#222" stroke-width="0.8"/>
<rect x="552.90" y="361.80" width="10.50" height="5.40" fill="#e62229" stroke="#222" stroke-width="0.8"/>
<text x="566.14" y="355.00" font-size="10.27" font-weight="bold" fill="#111"><tspan>shCtrl</tspan></text>
<text x="566.15" y="366.90" font-size="9.88" font-weight="bold" fill="#111"><tspan>sh</tspan><tspan font-style="italic">Uhrf1</tspan></text>
<circle cx="523.2" cy="439" r="8.6" fill="#fff" fill-opacity="0.84"/>
<circle cx="530.3" cy="445.2" r="7.4" fill="#fff" fill-opacity="0.93"/>
<path d="M514.3,440.8 L516.9,444.8 L520.9,446.1" fill="none" stroke="#444" stroke-width="0.7" stroke-dasharray="1.6,0.8"/>
<path d="M523.2,442.5 Q524.5,439.2 527.8,438.2" fill="none" stroke="#333" stroke-width="0.8"/>
<path d="M524.5,449.5 Q528,452.2 533,451.8" fill="none" stroke="#bbb" stroke-width="0.6"/>
<circle cx="526.2" cy="435.9" r="1.15" fill="#1a1a1a"/>
<circle cx="518.6" cy="435.5" r="0.8" fill="#999"/>
<circle cx="529.1" cy="441.8" r="0.6" fill="#666"/>
<circle cx="534.4" cy="441.5" r="0.75" fill="#333"/>
<g transform="translate(547.5,435.2) scale(0.1150,0.1420)"><path d="M28,4 L72,4 L72,40 L28,40 Z M28,22 L72,22 M6,54 L44,54 L44,98 L6,98 Z M6,76 L44,76 M56,54 L94,54 L94,98 L56,98 Z M56,76 L94,76" fill="none" stroke="#fff" stroke-width="20.87" stroke-opacity="0.85" stroke-linecap="round" stroke-linejoin="round"/><path d="M28,4 L72,4 L72,40 L28,40 Z M28,22 L72,22 M6,54 L44,54 L44,98 L6,98 Z M6,76 L44,76 M56,54 L94,54 L94,98 L56,98 Z M56,76 L94,76" fill="none" stroke="#3a3a3a" stroke-width="8.70" stroke-linecap="square"/></g>
<g transform="translate(561.6,435) scale(0.1360,0.1450)"><path d="M4,14 L96,14 M32,2 L32,26 M68,2 L68,26 M14,38 L86,38 M28,44 L36,54 M72,44 L64,54 M4,64 L96,64 M50,28 L50,100 M48,66 L10,94 M52,66 L92,94" fill="none" stroke="#fff" stroke-width="17.65" stroke-opacity="0.85" stroke-linecap="round" stroke-linejoin="round"/><path d="M4,14 L96,14 M32,2 L32,26 M68,2 L68,26 M14,38 L86,38 M28,44 L36,54 M72,44 L64,54 M4,64 L96,64 M50,28 L50,100 M48,66 L10,94 M52,66 L92,94" fill="none" stroke="#3a3a3a" stroke-width="7.35" stroke-linecap="square"/></g>
<g transform="translate(577,435.2) scale(0.1300,0.1420)"><path d="M50,0 L52,8 M8,26 L8,14 L92,14 L92,26 M30,30 L38,38 M26,44 L34,52 M8,64 L92,64 M62,24 Q62,70 14,98 M56,74 L90,98" fill="none" stroke="#fff" stroke-width="18.46" stroke-opacity="0.85" stroke-linecap="round" stroke-linejoin="round"/><path d="M50,0 L52,8 M8,26 L8,14 L92,14 L92,26 M30,30 L38,38 M26,44 L34,52 M8,64 L92,64 M62,24 Q62,70 14,98 M56,74 L90,98" fill="none" stroke="#3a3a3a" stroke-width="7.69" stroke-linecap="square"/></g>
<g transform="translate(592.2,435.2) scale(0.1350,0.1420)"><path d="M6,8 L34,8 L30,42 M8,8 L6,56 L40,56 L38,88 L30,94 M2,76 L30,72 M70,2 L44,32 M70,2 L98,32 M56,38 L88,38 M52,50 L58,72 M72,48 L72,74 M90,48 L82,76 M46,94 L98,94" fill="none" stroke="#fff" stroke-width="17.78" stroke-opacity="0.85" stroke-linecap="round" stroke-linejoin="round"/><path d="M6,8 L34,8 L30,42 M8,8 L6,56 L40,56 L38,88 L30,94 M2,76 L30,72 M70,2 L44,32 M70,2 L98,32 M56,38 L88,38 M52,50 L58,72 M72,48 L72,74 M90,48 L82,76 M46,94 L98,94" fill="none" stroke="#3a3a3a" stroke-width="7.41" stroke-linecap="square"/></g>
</svg></body></html>
